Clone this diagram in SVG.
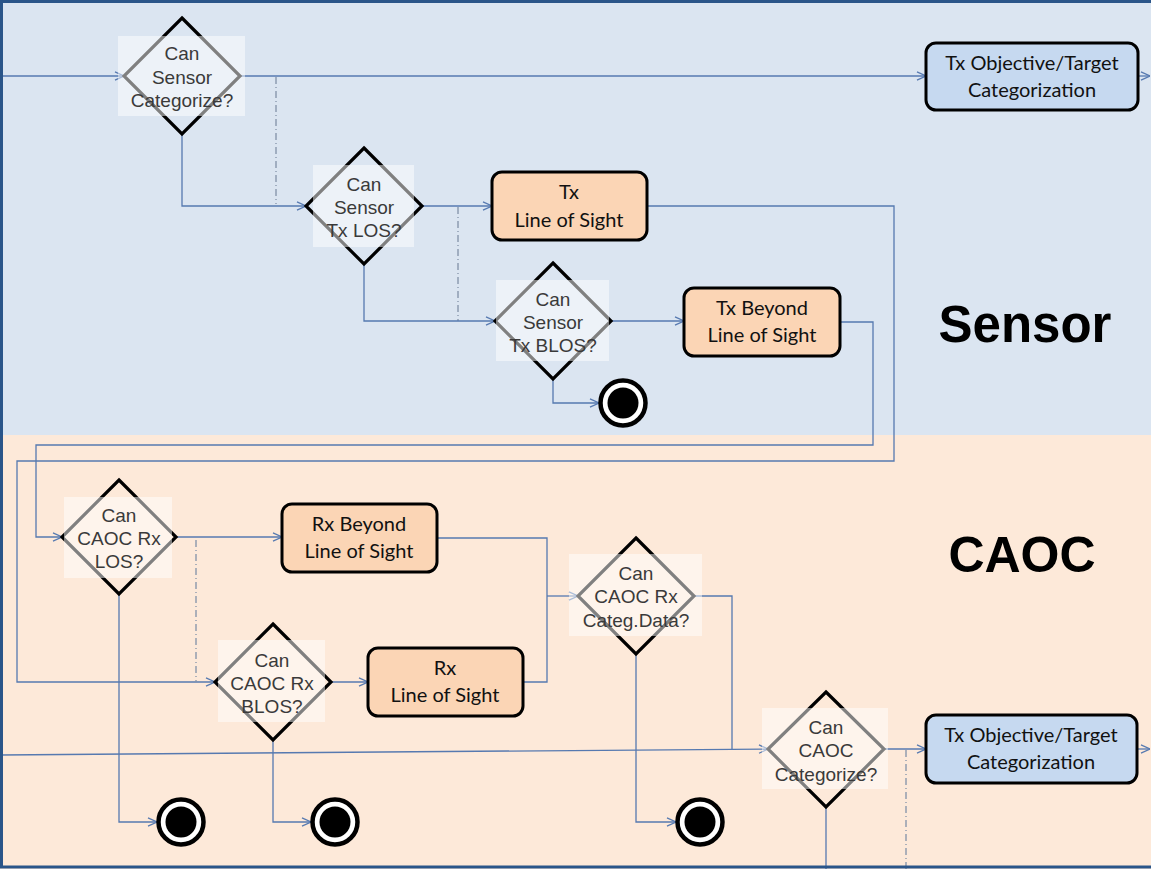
<svg xmlns="http://www.w3.org/2000/svg" width="1151" height="869" viewBox="0 0 1151 869">
<style>
.dt{font-family:"Liberation Sans",Arial,sans-serif;font-size:19px;fill:#3a3a3a;text-anchor:middle}
.bt{font-family:Lato,"Liberation Sans",sans-serif;font-size:20px;fill:#111;text-anchor:middle}
.lane{font-family:"Liberation Sans",Arial,sans-serif;font-weight:bold;fill:#000;text-anchor:middle}
.dia{fill:none;stroke:#000;stroke-width:3.2;stroke-linejoin:miter}
.tb{fill:#fff;fill-opacity:0.5}
.peach{fill:#fbd5b5;stroke:#000;stroke-width:3}
.blue{fill:#c6d9f0;stroke:#000;stroke-width:3}
.c{fill:none;stroke:#5679b0;stroke-width:1.3}
.ca{fill:none;stroke:#5679b0;stroke-width:1.3;marker-end:url(#arr)}
.dd{fill:none;stroke:#8291a8;stroke-width:1.3;stroke-dasharray:7,3,1,3}
.endo{fill:#fff;stroke:#000;stroke-width:4.5}
.endi{fill:#000}
</style>
<defs>
<marker id="arr" viewBox="0 0 10 10" refX="10" refY="5" markerWidth="10" markerHeight="10" markerUnits="userSpaceOnUse" orient="auto">
<path d="M1,0.8 L10,5 L1,9.2" fill="none" stroke="#5679b0" stroke-width="1.3"/>
</marker>
</defs>
<g id="lanes">
<rect x="0" y="0" width="1151" height="435" fill="#dbe5f1"/>
<rect x="0" y="435" width="1151" height="434" fill="#fde9d9"/>
<text class="lane" x="1025" y="342" font-size="51">Sensor</text>
<text class="lane" x="1022" y="572" font-size="50">CAOC</text>
</g>
<g id="connectors">
<path class="ca" d="M0,76 H124"/>
<path class="ca" d="M241,76 H926"/>
<path class="dd" d="M276,77 V204"/>
<path class="ca" d="M182,134 V206 H306"/>
<path class="ca" d="M422,206 H492"/>
<path class="dd" d="M458,207 V321"/>
<path class="ca" d="M364,264 V321 H495"/>
<path class="ca" d="M611,321 H684"/>
<path class="ca" d="M553,379 V403 H599"/>
<path class="ca" d="M1138,76 H1150"/>
<path class="ca" d="M647,206 H894 V461 H17 V682 H215"/>
<path class="ca" d="M840,322 H873 V445 H36 V537 H62"/>
<path class="ca" d="M176,537 H282"/>
<path class="dd" d="M196,540 V682"/>
<path class="ca" d="M119,594 V822 H157"/>
<path class="ca" d="M331,682 H368"/>
<path class="ca" d="M273,740 V822 H311"/>
<path class="c" d="M437,538 H547 V682 H523"/>
<path class="ca" d="M547,596 H578"/>
<path class="c" d="M694,596 H732 V749"/>
<path class="ca" d="M0,755 L768,749"/>
<path class="ca" d="M636,654 V822 H676"/>
<path class="ca" d="M884,749 H926"/>
<path class="dd" d="M906,750 V869"/>
<path class="c" d="M826,807 V869"/>
<path class="ca" d="M1137,749 H1150"/>
</g>
<g id="d1">
<polygon class="dia" points="182,18 240,76 182,134 124,76"/>
<rect class="tb" x="118" y="36" width="127" height="80"/>
<text class="dt" x="182" y="60">Can</text>
<text class="dt" x="182" y="84">Sensor</text>
<text class="dt" x="182" y="107">Categorize?</text>
</g>
<g id="d2">
<polygon class="dia" points="364,148 422,206 364,264 306,206"/>
<rect class="tb" x="313" y="165" width="101" height="82"/>
<text class="dt" x="364" y="191">Can</text>
<text class="dt" x="364" y="214">Sensor</text>
<text class="dt" x="364" y="237">Tx LOS?</text>
</g>
<g id="d3">
<polygon class="dia" points="553,263 611,321 553,379 495,321"/>
<rect class="tb" x="496" y="280" width="113" height="81"/>
<text class="dt" x="553" y="306">Can</text>
<text class="dt" x="553" y="329">Sensor</text>
<text class="dt" x="553" y="352">Tx BLOS?</text>
</g>
<g id="d4">
<polygon class="dia" points="119,480 176,537 119,594 62,537"/>
<rect class="tb" x="64" y="497" width="108" height="81"/>
<text class="dt" x="119" y="522">Can</text>
<text class="dt" x="119" y="545">CAOC Rx</text>
<text class="dt" x="119" y="568">LOS?</text>
</g>
<g id="d5">
<polygon class="dia" points="273,624 331,682 273,740 215,682"/>
<rect class="tb" x="218" y="640" width="107" height="82"/>
<text class="dt" x="272" y="667">Can</text>
<text class="dt" x="272" y="690">CAOC Rx</text>
<text class="dt" x="272" y="713">BLOS?</text>
</g>
<g id="d6">
<polygon class="dia" points="636,538 694,596 636,654 578,596"/>
<rect class="tb" x="569" y="554" width="133" height="82"/>
<text class="dt" x="636" y="580">Can</text>
<text class="dt" x="636" y="603">CAOC Rx</text>
<text class="dt" x="636" y="627">Categ.Data?</text>
</g>
<g id="d7">
<polygon class="dia" points="826,692 884,749 826,807 768,749"/>
<rect class="tb" x="762" y="708" width="126" height="81"/>
<text class="dt" x="826" y="734">Can</text>
<text class="dt" x="826" y="757">CAOC</text>
<text class="dt" x="826" y="781">Categorize?</text>
</g>
<g id="txObjTop">
<rect class="blue" x="926" y="43" width="212" height="67" rx="10"/>
<text class="bt" x="1032" y="70">Tx Objective/Target</text>
<text class="bt" x="1032" y="97">Categorization</text>
</g>
<g id="txLos">
<rect class="peach" x="492" y="172" width="155" height="68" rx="10"/>
<text class="bt" x="569" y="199">Tx</text>
<text class="bt" x="569" y="227">Line of Sight</text>
</g>
<g id="txBlos">
<rect class="peach" x="684" y="288" width="156" height="68" rx="10"/>
<text class="bt" x="762" y="315">Tx Beyond</text>
<text class="bt" x="762" y="342">Line of Sight</text>
</g>
<g id="rxBlos">
<rect class="peach" x="282" y="504" width="155" height="68" rx="10"/>
<text class="bt" x="359" y="531">Rx Beyond</text>
<text class="bt" x="359" y="558">Line of Sight</text>
</g>
<g id="rxLos">
<rect class="peach" x="368" y="648" width="155" height="68" rx="10"/>
<text class="bt" x="445" y="675">Rx</text>
<text class="bt" x="445" y="702">Line of Sight</text>
</g>
<g id="txObjBottom">
<rect class="blue" x="926" y="715" width="211" height="68" rx="10"/>
<text class="bt" x="1031" y="742">Tx Objective/Target</text>
<text class="bt" x="1031" y="769">Categorization</text>
</g>
<g id="end1"><circle class="endo" cx="623" cy="403" r="22.5"/><circle class="endi" cx="623" cy="403" r="15.5"/></g>
<g id="end2"><circle class="endo" cx="181" cy="822" r="22.5"/><circle class="endi" cx="181" cy="822" r="15.5"/></g>
<g id="end3"><circle class="endo" cx="335" cy="822" r="22.5"/><circle class="endi" cx="335" cy="822" r="15.5"/></g>
<g id="end4"><circle class="endo" cx="700" cy="822" r="22.5"/><circle class="endi" cx="700" cy="822" r="15.5"/></g>
<rect x="1.5" y="1.5" width="1160" height="865.5" fill="none" stroke="#2a5589" stroke-width="3"/>
</svg>
